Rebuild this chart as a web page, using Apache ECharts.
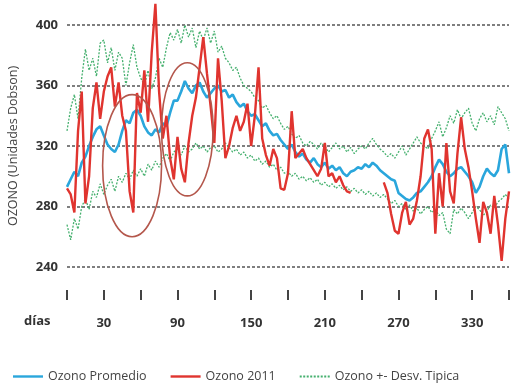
<!DOCTYPE html>
<html><head><meta charset="utf-8">
<script src="https://cdn.jsdelivr.net/npm/echarts@6/dist/echarts.min.js"></script>
<style>html,body{margin:0;padding:0;background:#fff}#c{width:513px;height:390px}</style>
</head><body><div id="c"></div>
<script>
// day of year for each sample (every 3 days)
const days = Array.from({length:121},(_,i)=>i*3);
const xLabels = ['30','90','150','210','270','330'];
const yTicks = [240,280,320,360,400];

const promedio = [
293,298,303,300,309,313,320,326,331,333,
327,321,318,316,321,330,337,335,342,344,
340,333,329,327,331,329,335,333,342,350,
350,356,363,358,355,360,362,356,352,355,
358,360,356,357,352,354,349,346,348,343,
340,341,337,333,335,330,327,328,324,321,
318,321,316,313,315,311,309,312,308,306,
309,305,307,304,306,302,300,303,304,306,
305,308,306,309,307,304,302,300,298,297,
289,287,285,284,286,289,290,293,296,300,
306,311,308,303,300,302,305,306,303,300,
296,289,293,300,305,302,300,304,318,321,
302];

const ozono2011 = [
292,288,276,330,356,282,300,345,362,338,
356,366,372,346,362,340,330,290,276,355,
342,370,336,382,414,356,325,340,312,298,
326,305,296,322,340,352,372,392,368,346,
322,378,350,312,320,332,340,330,336,348,
320,340,372,325,314,307,318,312,292,291,
302,343,312,315,318,312,308,304,300,305,
322,300,302,296,300,294,290,289,null,null,
null,null,null,null,null,null,296,289,275,264,
262,276,283,268,272,284,300,325,331,318,
262,302,280,322,290,282,315,339,318,306,
290,272,256,283,276,262,287,268,244,272,
290];

const desvSup = [
330,345,354,338,365,384,370,378,366,388,
390,375,385,370,382,378,360,375,387,372,
365,360,370,358,365,378,372,385,395,390,
397,388,400,392,398,385,396,390,398,388,
396,382,386,378,375,370,372,365,360,358,
356,352,350,345,347,342,338,340,335,331,
333,328,325,327,322,320,323,321,318,322,
320,316,319,322,318,320,316,319,315,318,
320,318,322,325,321,318,316,313,315,312,
316,320,314,318,322,326,322,320,318,325,
330,336,326,332,340,335,344,338,342,345,
335,330,338,342,336,340,334,346,342,338,
330];

const desvInf = [
268,258,272,265,280,285,278,290,286,295,
288,294,298,290,300,296,302,298,304,300,
305,300,308,304,310,306,312,315,310,316,
318,314,320,316,318,322,318,320,316,319,
320,316,318,322,319,316,318,314,316,312,
314,310,312,308,310,306,308,304,306,302,
303,300,302,298,300,297,299,296,298,294,
296,293,295,292,294,291,293,290,292,289,
291,288,290,287,289,286,288,285,282,284,
280,282,278,281,277,279,275,278,280,276,
278,274,276,265,262,278,275,279,276,272,
276,280,278,274,277,281,279,283,285,288,
285];

// hand-drawn highlight ellipses (data coordinates: center day, center value, radius in days, radius in DU)
const ellipseDay = [53, 98];
const ellipseVal = [307, 331];
const ellipseRDay = [24, 21];
const ellipseRVal = [47, 44];

const pairs = arr => days.map((d,i)=>[d, arr[i]]);
const FONT = "'Open Sans', sans-serif";
const GREEN = '#45b06e';
const BLUE = '#2aa6dc';
const RED = '#e0342f';

const LINE_ICON = 'path://M0,0h30v2.4h-30z';
const DOT_ICON = 'path://M0,0h2v2h-2zM3.5,0h2v2h-2zM7,0h2v2h-2zM10.5,0h2v2h-2zM14,0h2v2h-2zM17.5,0h2v2h-2zM21,0h2v2h-2zM24.5,0h2v2h-2zM28,0h2v2h-2z';

const chart = echarts.init(document.getElementById('c'));
chart.setOption({
  animation:false,
  backgroundColor:'#fff',
  grid:{left:67,right:4,top:25,bottom:123,containLabel:false,outerBoundsMode:'none'},
  xAxis:{
    type:'value',min:0,max:360,interval:30,offset:23,
    axisLine:{show:false},
    axisTick:{show:true,length:10,inside:false,lineStyle:{color:'#444',width:2}},
    splitLine:{show:false},
    axisLabel:{margin:27,color:'#333',fontFamily:FONT,fontWeight:'bold',fontSize:13,
      formatter:v=>xLabels.includes(String(v))?String(v):''}
  },
  yAxis:{
    type:'value',min:yTicks[0],max:yTicks[yTicks.length-1],interval:40,
    name:'OZONO (Unidades Dobson)',nameLocation:'middle',nameGap:47,nameRotate:90,
    nameTextStyle:{color:'#444',fontFamily:FONT,fontSize:12.5},
    axisLine:{show:false},axisTick:{show:false},
    axisLabel:{margin:9,color:'#333',fontFamily:FONT,fontWeight:'bold',fontSize:13},
    splitLine:{show:true,lineStyle:{color:'#555',type:[3,2],width:1.5}}
  },
  legend:{
    left:8,top:365,itemWidth:30,itemHeight:2.4,itemGap:24,
    data:[
      {name:'Ozono Promedio',icon:LINE_ICON,itemStyle:{color:BLUE}},
      {name:'Ozono 2011',icon:LINE_ICON,itemStyle:{color:RED}},
      {name:'Ozono +- Desv. Tipica',icon:DOT_ICON,itemStyle:{color:GREEN}}
    ],
    textStyle:{color:'#444',fontFamily:FONT,fontSize:12.5}
  },
  series:[
    {name:'Ozono +- Desv. Tipica',type:'line',data:pairs(desvSup),symbol:'none',z:1,
     lineStyle:{color:GREEN,width:1.3,type:[2,1.5]},itemStyle:{color:GREEN}},
    {name:'Ozono +- Desv. Tipica',type:'line',data:pairs(desvInf),symbol:'none',z:1,
     lineStyle:{color:GREEN,width:1.3,type:[2,1.5]},itemStyle:{color:GREEN}},
    {name:'Ozono Promedio',type:'line',data:pairs(promedio),symbol:'none',z:2,
     lineStyle:{color:BLUE,width:2.6},itemStyle:{color:BLUE}},
    {name:'Ozono 2011',type:'line',data:pairs(ozono2011),symbol:'none',z:3,clip:false,connectNulls:false,
     lineStyle:{color:RED,width:2.4},itemStyle:{color:RED}}
  ]
});

// place annotation ellipses through the chart's own scales
const ell = ellipseDay.map((d,i)=>{
  const c = chart.convertToPixel({gridIndex:0},[d, ellipseVal[i]]);
  const e = chart.convertToPixel({gridIndex:0},[d+ellipseRDay[i], ellipseVal[i]+ellipseRVal[i]]);
  return {type:'ellipse',z:10,shape:{cx:c[0],cy:c[1],rx:Math.abs(e[0]-c[0]),ry:Math.abs(c[1]-e[1])},
    style:{fill:'none',stroke:'#b4574c',lineWidth:1.6}};
});
chart.setOption({graphic:[{type:'text',left:24,top:315,style:{text:'días',fill:'#333',font:"bold 13px 'Open Sans', sans-serif"}}].concat(ell)});
</script></body></html>
